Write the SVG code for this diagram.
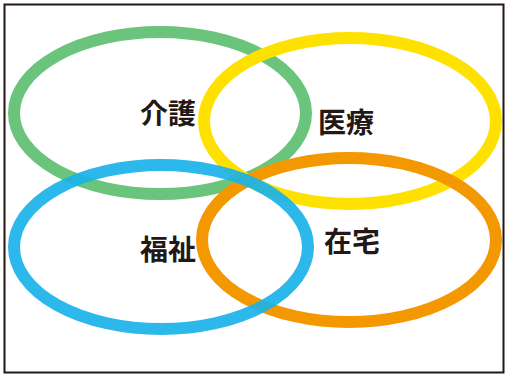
<svg xmlns="http://www.w3.org/2000/svg" width="506" height="376" viewBox="0 0 506 376">
<style>
.ring{fill:none;stroke-width:12}
.lbl{font-family:"Noto Sans CJK JP","Noto Sans CJK SC",sans-serif;font-size:28px;font-weight:bold;fill:#231815;text-anchor:middle;dominant-baseline:central}
</style>
<rect x="0" y="0" width="506" height="376" fill="#fff"/>
<rect x="4.5" y="4.5" width="499" height="368" fill="none" stroke="#231815" stroke-width="2"/>
<g id="kaigo-ring"><ellipse class="ring" cx="160" cy="113" rx="146" ry="81" stroke="#6bc47b"/></g>
<g id="iryo-ring"><ellipse class="ring" cx="350" cy="121" rx="146" ry="83" stroke="#ffe100"/></g>
<g id="zaitaku-ring"><ellipse class="ring" cx="349" cy="240" rx="147" ry="82" stroke="#f39800"/></g>
<g id="fukushi-ring"><ellipse class="ring" cx="161" cy="247" rx="147" ry="82" stroke="#1ab2e8" stroke-opacity="0.92"/></g>
<g id="kaigo"><text class="lbl" x="168" y="112">介護</text></g>
<g id="iryo"><text class="lbl" x="346" y="121">医療</text></g>
<g id="fukushi"><text class="lbl" x="168" y="248">福祉</text></g>
<g id="zaitaku"><text class="lbl" x="352" y="240">在宅</text></g>
<g id="connectors"/>
</svg>
